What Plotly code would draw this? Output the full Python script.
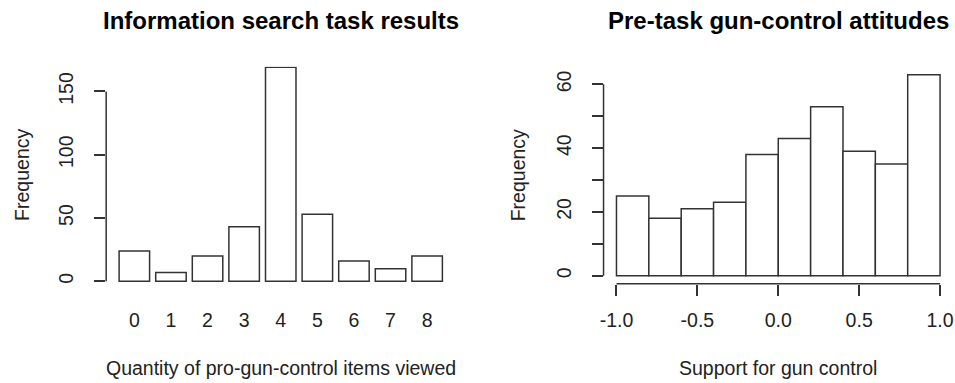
import plotly.graph_objects as go

# ---- data ----
items_viewed = [0, 1, 2, 3, 4, 5, 6, 7, 8]
items_freq = [24, 7, 20, 43, 169, 53, 16, 10, 20]

support_breaks = [-1.0, -0.8, -0.6, -0.4, -0.2, 0.0, 0.2, 0.4, 0.6, 0.8, 1.0]
support_freq = [25, 18, 21, 23, 38, 43, 53, 39, 35, 63]

left_yticks = [0, 50, 100, 150]
right_yticks = [0, 10, 20, 30, 40, 50, 60]
right_ytick_text = ["0", "", "20", "", "40", "", "60"]
right_xticks = [-1.0, -0.5, 0.0, 0.5, 1.0]
right_xtick_text = ["-1.0", "-0.5", "0.0", "0.5", "1.0"]

W, H = 955, 383
FONT = "Liberation Sans, Arial, sans-serif"
LINE = "#333333"
TXT = "#222222"

bin_centers = [(a + b) / 2 for a, b in zip(support_breaks[:-1], support_breaks[1:])]
bin_widths = [b - a for a, b in zip(support_breaks[:-1], support_breaks[1:])]

fig = go.Figure()
fig.add_trace(go.Bar(
    x=items_viewed, y=items_freq, width=0.833,
    marker=dict(color="white", line=dict(color=LINE, width=1.5)),
    xaxis="x", yaxis="y", showlegend=False, hoverinfo="skip"))
fig.add_trace(go.Bar(
    x=bin_centers, y=support_freq, width=bin_widths,
    marker=dict(color="white", line=dict(color=LINE, width=1.5)),
    xaxis="x2", yaxis="y2", showlegend=False, hoverinfo="skip"))

ydom = [1 - 283.7 / H, 1 - 66.7 / H]
tickfont = dict(family=FONT, size=19.5, color=TXT)

fig.update_layout(
    width=W, height=H, margin=dict(l=0, r=0, t=0, b=0),
    paper_bgcolor="white", plot_bgcolor="white",
    barmode="overlay",
    xaxis=dict(domain=[102.7 / W, 453.7 / W], range=[-0.77, 8.77],
               tickmode="array", tickvals=items_viewed,
               ticktext=[str(v) for v in items_viewed],
               ticks="outside", ticklen=11, tickcolor="rgba(0,0,0,0)",
               ticklabelstandoff=8,
               showline=False, showgrid=False, zeroline=False,
               tickfont=tickfont, anchor="y"),
    yaxis=dict(domain=ydom, range=[-1.9, 169.5],
               tickmode="array", tickvals=left_yticks,
               ticktext=[str(v) for v in left_yticks],
               ticks="outside", ticklen=11, tickcolor=LINE, tickwidth=1.5,
               tickangle=-90, ticklabelstandoff=13,
               showline=False, showgrid=False, zeroline=False,
               tickfont=tickfont, anchor="x"),
    xaxis2=dict(domain=[602.7 / W, 954 / W], range=[-1.08, 1.08],
                tickmode="array", tickvals=right_xticks, ticktext=right_xtick_text,
                ticks="outside", ticklen=11, tickcolor=LINE, tickwidth=1.5,
                ticklabelstandoff=8,
                showline=False, showgrid=False, zeroline=False,
                tickfont=tickfont, anchor="y2"),
    yaxis2=dict(domain=ydom, range=[-2.51, 65.54],
                tickmode="array", tickvals=right_yticks, ticktext=right_ytick_text,
                ticks="outside", ticklen=11, tickcolor=LINE, tickwidth=1.5,
                tickangle=-90, ticklabelstandoff=13,
                showline=False, showgrid=False, zeroline=False,
                tickfont=tickfont, anchor="x2"),
)

# axis lines spanning first to last tick (R style)
fig.add_shape(type="line", xref="x domain", x0=0, x1=0, yref="y",
              y0=left_yticks[0], y1=left_yticks[-1], line=dict(color=LINE, width=1.5))
fig.add_shape(type="line", xref="x2 domain", x0=0, x1=0, yref="y2",
              y0=right_yticks[0], y1=right_yticks[-1], line=dict(color=LINE, width=1.5))
fig.add_shape(type="line", xref="x2", x0=right_xticks[0], x1=right_xticks[-1],
              yref="y2 domain", y0=0, y1=0, line=dict(color=LINE, width=1.5))

# titles and axis labels
def ann(text, xref, x, y, size, bold=False, angle=0):
    fig.add_annotation(text=f"<b>{text}</b>" if bold else text,
                       xref=xref, x=x, yref="paper", y=y,
                       xanchor="center", yanchor="middle", showarrow=False,
                       textangle=angle,
                       font=dict(family=FONT, size=size, color="#000000" if bold else TXT))

ann("Information search task results", "x domain", 0.5, 1 - 20 / H, 24, bold=True)
ann("Pre-task gun-control attitudes", "x2 domain", 0.5, 1 - 20 / H, 24, bold=True)
ann("Quantity of pro-gun-control items viewed", "x domain", 0.5, 1 - 368 / H, 19.5)
ann("Support for gun control", "x2 domain", 0.5, 1 - 368 / H, 19.5)
fig.add_annotation(text="Frequency", xref="paper", x=18 / W, yref="paper", y=1 - 175 / H,
                   xanchor="center", yanchor="middle", showarrow=False, textangle=-90,
                   font=dict(family=FONT, size=19.5, color=TXT))
fig.add_annotation(text="Frequency", xref="paper", x=517 / W, yref="paper", y=1 - 175 / H,
                   xanchor="center", yanchor="middle", showarrow=False, textangle=-90,
                   font=dict(family=FONT, size=19.5, color=TXT))

fig.write_html("out.html")
